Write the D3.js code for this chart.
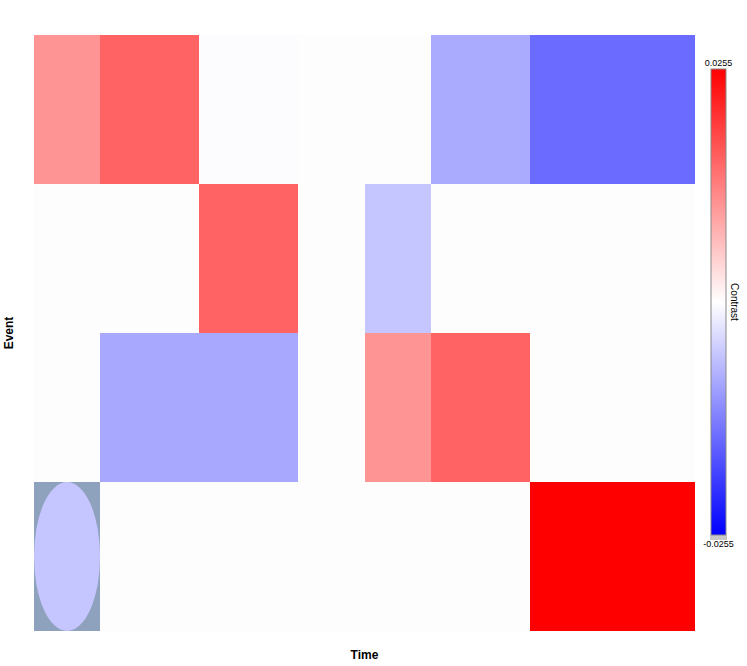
<!DOCTYPE html>
<html>
<head>
<meta charset="utf-8">
<script src="https://cdn.jsdelivr.net/npm/d3@7"></script>
<style>
  body { margin: 0; background: #fff; }
  svg { display: block; font-family: "Liberation Sans", Arial, sans-serif; }
</style>
</head>
<body>
<div id="chart"></div>
<script>
// Time bin edges (columns have unequal widths)
const timeEdges = [0, 2, 5, 8, 10, 12, 15, 20];
const events = ['E1', 'E2', 'E3', 'E4'];

// Contrast value per event row, per time bin
const contrastE1 = [0.0107, 0.0156, -0.0003, 0, 0, -0.0085, -0.0148];
const contrastE2 = [0, 0, 0.0156, 0, -0.0058, 0, 0];
const contrastE3 = [0, -0.0087, -0.0087, 0, 0.0107, 0.0156, 0];
const contrastE4 = [-0.0058, 0, 0, 0, 0, 0, 0.0255];

// highlighted cell (row index, column index)
const marked = [[3, 0]];

const colorMin = -0.0255;
const colorMax = 0.0255;

const width = 747;
const height = 666;
const margin = { top: 35, right: 52, bottom: 35, left: 34 };

const svg = d3.select('#chart').append('svg')
    .attr('width', width)
    .attr('height', height);

const x = d3.scaleLinear()
    .domain([timeEdges[0], timeEdges[timeEdges.length - 1]])
    .range([margin.left, width - margin.right]);

const y = d3.scaleBand()
    .domain(events)
    .range([margin.top, height - margin.bottom]);

const color = d3.scaleLinear()
    .domain([colorMin, 0, colorMax])
    .range(['#0000ff', '#ffffff', '#ff0000']);

const rows = [contrastE1, contrastE2, contrastE3, contrastE4];
const cells = [];
rows.forEach((vals, r) => {
    vals.forEach((v, c) => {
        cells.push({ event: events[r], r, c, t0: timeEdges[c], t1: timeEdges[c + 1], value: v });
    });
});

const isMarked = d => marked.some(([r, c]) => r === d.r && c === d.c);

const gCells = svg.append('g');

gCells.selectAll('rect')
    .data(cells)
    .join('rect')
    .attr('x', d => x(d.t0))
    .attr('y', d => y(d.event))
    .attr('width', d => x(d.t1) - x(d.t0))
    .attr('height', y.bandwidth())
    .attr('shape-rendering', 'crispEdges')
    .attr('fill', d => isMarked(d) ? '#8ea2be' : (d.value === 0 ? '#fdfdfd' : color(d.value)));

// marked cell drawn as an ellipse inside a grey cell
gCells.selectAll('ellipse')
    .data(cells.filter(isMarked))
    .join('ellipse')
    .attr('cx', d => (x(d.t0) + x(d.t1)) / 2)
    .attr('cy', d => y(d.event) + y.bandwidth() / 2)
    .attr('rx', d => (x(d.t1) - x(d.t0)) / 2)
    .attr('ry', y.bandwidth() / 2)
    .attr('fill', d => color(d.value));

// Axis titles
svg.append('text')
    .attr('x', (x.range()[0] + x.range()[1]) / 2)
    .attr('y', 659)
    .attr('text-anchor', 'middle')
    .style('font-size', '12px')
    .style('font-weight', 'bold')
    .text('Time');

svg.append('text')
    .attr('transform', `translate(13,${(y.range()[0] + y.range()[1]) / 2}) rotate(-90)`)
    .attr('text-anchor', 'middle')
    .style('font-size', '12px')
    .style('font-weight', 'bold')
    .text('Event');

// Color legend
const legX = 711, legW = 15, legTop = 69, legBottom = 535;

const defs = svg.append('defs');
const grad = defs.append('linearGradient')
    .attr('id', 'contrastGrad')
    .attr('x1', 0).attr('y1', 1).attr('x2', 0).attr('y2', 0);
d3.range(0, 1.0001, 0.1).forEach(t => {
    grad.append('stop')
        .attr('offset', t)
        .attr('stop-color', color(colorMin + t * (colorMax - colorMin)));
});

const legScale = d3.scaleLinear()
    .domain([colorMin, colorMax])
    .range([legBottom, legTop]);

svg.append('rect')
    .attr('x', legX - 1)
    .attr('y', legBottom)
    .attr('width', legW + 2)
    .attr('height', 5)
    .attr('fill', '#c8c8c8');

svg.append('rect')
    .attr('x', legX)
    .attr('y', legScale(colorMax))
    .attr('width', legW)
    .attr('height', legScale(colorMin) - legScale(colorMax))
    .attr('fill', 'url(#contrastGrad)')
    .attr('stroke', '#888')
    .attr('stroke-width', 1);

svg.append('text')
    .attr('x', legX + legW / 2)
    .attr('y', legScale(colorMax) - 3)
    .attr('text-anchor', 'middle')
    .style('font-size', '9px')
    .text(colorMax);

svg.append('text')
    .attr('x', legX + legW / 2)
    .attr('y', legScale(colorMin) + 12)
    .attr('text-anchor', 'middle')
    .style('font-size', '9px')
    .text(colorMin);

svg.append('text')
    .attr('transform', `translate(731,${(legTop + legBottom) / 2}) rotate(90)`)
    .attr('text-anchor', 'middle')
    .style('font-size', '10px')
    .text('Contrast');
</script>
</body>
</html>
